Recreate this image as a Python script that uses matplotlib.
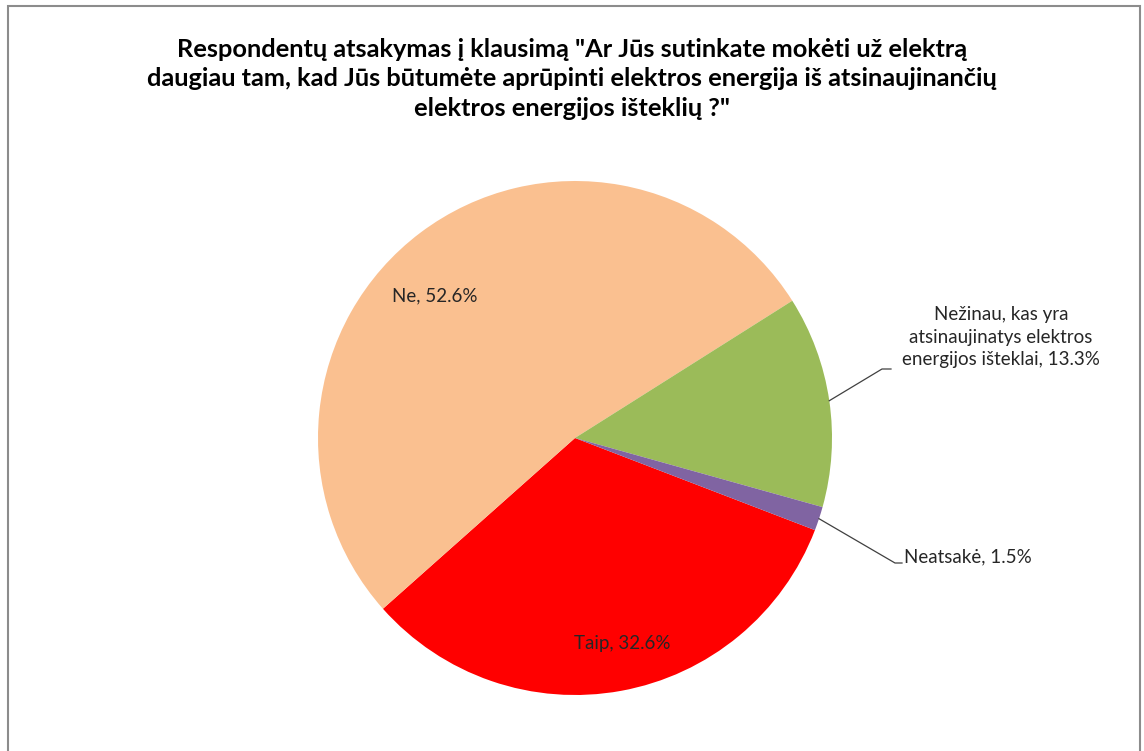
## Import libraries
import numpy as np
import matplotlib
matplotlib.use("Agg")
import matplotlib.pyplot as plt
from matplotlib.patches import Rectangle

## Chart data
categories = ["Taip", "Ne", "Nežinau, kas yra\natsinaujinatys elektros\nenergijos išteklai", "Neatsakė"]
shares = [32.6, 52.6, 13.3, 1.5]
colors = ["#FF0000", "#FAC090", "#9BBB59", "#8064A2"]

title = ('Respondentų atsakymas į klausimą "Ar Jūs sutinkate mokėti už elektrą\n'
         'daugiau tam, kad Jūs būtumėte aprūpinti elektros energija iš atsinaujinančių\n'
         'elektros energijos išteklių ?"')

W, H = 1144, 751
fig = plt.figure(figsize=(W / 100, H / 100), dpi=100)
fig.patch.set_facecolor("white")

## Square axes, pie centre at pixel (575, 438), radius 257 px
cx, cy, r = 575, 438, 257
ax = fig.add_axes([(cx - r) / W, (H - cy - r) / H, 2 * r / W, 2 * r / H])
wedges, _ = ax.pie(shares, colors=colors, startangle=-21, counterclock=False,
                   radius=1, wedgeprops=dict(linewidth=0))
ax.set_xlim(-1, 1)
ax.set_ylim(-1, 1)
ax.set_aspect("equal")
ax.axis("off")


def px(x, y):
    ## pixel position -> data coords of the pie axes
    return (x - cx) / r, (cy - y) / r


label_font = dict(family=["Lato", "DejaVu Sans"], fontsize=13.5, color="#262626")

## Inside labels
for i, pos in [(1, (435, 296)), (0, (622, 643))]:
    x, y = px(*pos)
    ax.text(x, y, f"{categories[i]}, {shares[i]}%", ha="center", va="center", **label_font)

## Outside labels with leader lines
outside = [(2, (1001, 337), (882, 369), (891, 369), "center"),
           (3, (904, 557), (895, 563), (902, 563), "left")]
for i, tpos, elbow, end, ha in outside:
    w = wedges[i]
    mid = np.deg2rad((w.theta1 + w.theta2) / 2)
    sx, sy = np.cos(mid), np.sin(mid)
    ex, ey = px(*elbow)
    fx, fy = px(*end)
    ax.plot([sx, ex, fx], [sy, ey, fy], color="#404040", lw=0.9, clip_on=False)
    tx, ty = px(*tpos)
    ax.text(tx, ty, f"{categories[i]}, {shares[i]}%", ha=ha, va="center",
            multialignment="center", linespacing=1.4, **label_font)

## Title
fig.text(572 / W, 1 - 79 / H, title, ha="center", va="center", fontsize=18.3,
         fontweight="bold", family=["Lato", "DejaVu Sans"], linespacing=1.35, color="black")

## Chart border
fig.add_artist(Rectangle((8 / W, -0.01), (1140 - 8) / W, (H - 6) / H + 0.01,
                         transform=fig.transFigure, fill=False, edgecolor="#8c8c8c", lw=1.5))

fig.savefig("out.png", dpi=100, facecolor="white")
